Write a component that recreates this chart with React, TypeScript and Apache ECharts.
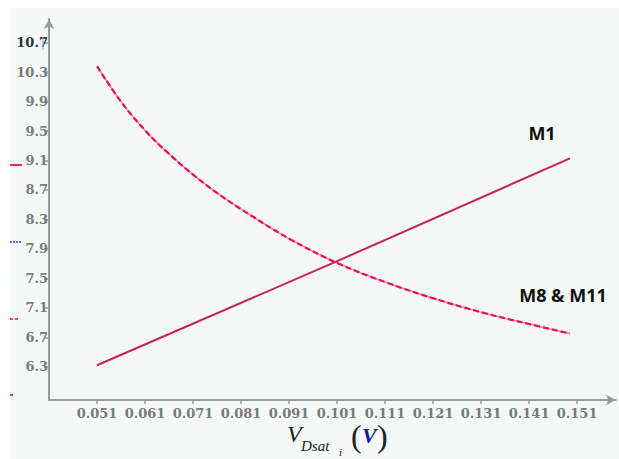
import React, { useEffect, useRef } from "react";
import * as echarts from "echarts";

const xTicks = [0.051, 0.061, 0.071, 0.081, 0.091, 0.101, 0.111, 0.121, 0.131, 0.141, 0.151];
const yTicks = [6.3, 6.7, 7.1, 7.5, 7.9, 8.3, 8.7, 9.1, 9.5, 9.9, 10.3, 10.7];

const m1X = [0.051, 0.1002, 0.1495];
const m1Y = [6.32, 7.71, 9.13];

const m8X = [0.051, 0.056, 0.061, 0.066, 0.071, 0.076, 0.081, 0.091, 0.101, 0.111, 0.121, 0.131, 0.141, 0.1495];
const m8Y = [10.38, 9.9, 9.51, 9.19, 8.91, 8.66, 8.44, 8.04, 7.71, 7.45, 7.23, 7.04, 6.88, 6.75];

const seriesNames = ["M1", "M8 & M11"];

export default function App() {
  const ref = useRef<HTMLDivElement>(null);
  useEffect(() => {
    if (!ref.current) return;
    const chart = echarts.init(ref.current, null, { renderer: "svg" });
    const m1 = m1X.map((x, i) => [x, m1Y[i]]);
    const m8 = m8X.map((x, i) => [x, m8Y[i]]);
    const tickFont = "'DejaVu Serif'";
    chart.setOption({
      animation: false,
      backgroundColor: "#ffffff",
      textStyle: { fontFamily: tickFont, fontSize: 13 },
      grid: { left: 49, right: 3, top: 19, bottom: 59, containLabel: false },
      xAxis: {
        type: "value",
        min: 0.041,
        max: 0.1591,
        axisLine: {
          show: true,
          lineStyle: { color: "#9a9a9a", width: 2 },
          symbol: ["none", "arrow"],
          symbolSize: [8, 10],
        },
        axisTick: { show: true, customValues: xTicks, length: 4, lineStyle: { color: "#9a9a9a", width: 1.5 } },
        axisLabel: {
          customValues: xTicks,
          formatter: (v: number) => v.toFixed(3),
          color: "#7a7a7a",
          fontFamily: tickFont,
          fontWeight: "bold",
          fontSize: 13,
          margin: 7,
        },
        splitLine: { show: false },
      },
      yAxis: {
        type: "value",
        min: 5.848,
        max: 11.022,
        axisLine: {
          show: true,
          onZero: false,
          lineStyle: { color: "#9a9a9a", width: 2 },
          symbol: ["none", "arrow"],
          symbolSize: [8, 10],
        },
        axisTick: { show: true, customValues: yTicks, length: 5, lineStyle: { color: "#9a9a9a", width: 1.5 } },
        axisLabel: {
          customValues: yTicks,
          formatter: (v: number) => v.toFixed(1),
          color: (v: any) => (Math.abs(Number(v) - 10.7) < 1e-6 ? "#333" : "#7a7a7a"),
          fontFamily: tickFont,
          fontWeight: "bold",
          fontSize: 13,
          margin: 1,
        },
        splitLine: { show: false },
      },
      series: [
        {
          name: seriesNames[0],
          type: "line",
          data: m1,
          showSymbol: false,
          lineStyle: { color: "#c8205a", width: 2 },
          z: 3,
        },
        {
          name: seriesNames[1],
          type: "line",
          data: m8,
          smooth: 0.4,
          showSymbol: false,
          lineStyle: { color: "#ff77dd", width: 1.6 },
          z: 2,
        },
        {
          name: seriesNames[1] + " dash",
          type: "line",
          data: m8,
          smooth: 0.4,
          showSymbol: false,
          lineStyle: { color: "#ee1144", width: 2.2, type: [6, 3] },
          z: 2,
        },
      ],
      graphic: [
        { type: "rect", z: -100, shape: { x: 10, y: 8, width: 609, height: 451 }, style: { fill: "#f4f8f6" } },
        { type: "line", z: 10, shape: { x1: 10, y1: 165, x2: 22, y2: 165 }, style: { stroke: "#ee3344", lineWidth: 2 } },
        { type: "line", z: 10, shape: { x1: 10, y1: 242, x2: 22, y2: 242 }, style: { stroke: "#6666ee", lineWidth: 2, lineDash: [2, 1] } },
        { type: "line", z: 10, shape: { x1: 10, y1: 319, x2: 20, y2: 319 }, style: { stroke: "#ee33cc", lineWidth: 2, lineDash: [3, 2] } },
        { type: "line", z: 10, shape: { x1: 10, y1: 395, x2: 13, y2: 395 }, style: { stroke: "#ee3344", lineWidth: 2 } },
        { type: "line", z: 10, shape: { x1: 43, y1: 37, x2: 43, y2: 50 }, style: { stroke: "#88aaee", lineWidth: 1 } },
        {
          type: "text", z: 10, x: 542, y: 133,
          style: { text: "M1", font: "bold 18px 'Open Sans'", fill: "#111", align: "center", verticalAlign: "middle" },
        },
        {
          type: "text", z: 10, x: 563, y: 295,
          style: { text: "M8 & M11", font: "bold 18px 'Open Sans'", fill: "#111", align: "center", verticalAlign: "middle" },
        },
        {
          type: "text", z: 10, x: 287, y: 446,
          style: { text: "V", font: "italic 24px 'Liberation Serif'", fill: "#222", align: "left", verticalAlign: "bottom" },
        },
        {
          type: "text", z: 10, x: 301, y: 453,
          style: { text: "Dsat", font: "italic 15px 'Liberation Serif'", fill: "#222", align: "left", verticalAlign: "bottom" },
        },
        {
          type: "text", z: 10, x: 339, y: 457,
          style: { text: "i", font: "italic 11px 'Liberation Serif'", fill: "#222", align: "left", verticalAlign: "bottom" },
        },
        {
          type: "text", z: 10, x: 351, y: 452,
          style: { text: "(", font: "32px 'Liberation Serif'", fill: "#222", align: "left", verticalAlign: "bottom" },
        },
        {
          type: "text", z: 10, x: 362, y: 446,
          style: { text: "V", font: "italic bold 22px 'Liberation Serif'", fill: "#1a1a99", align: "left", verticalAlign: "bottom" },
        },
        {
          type: "text", z: 10, x: 377, y: 452,
          style: { text: ")", font: "32px 'Liberation Serif'", fill: "#222", align: "left", verticalAlign: "bottom" },
        },
      ],
    });
    return () => chart.dispose();
  }, []);
  return (
    <div
      ref={ref}
      style={{ position: "fixed", left: 0, top: 0, width: 619, height: 459 }}
    />
  );
}
